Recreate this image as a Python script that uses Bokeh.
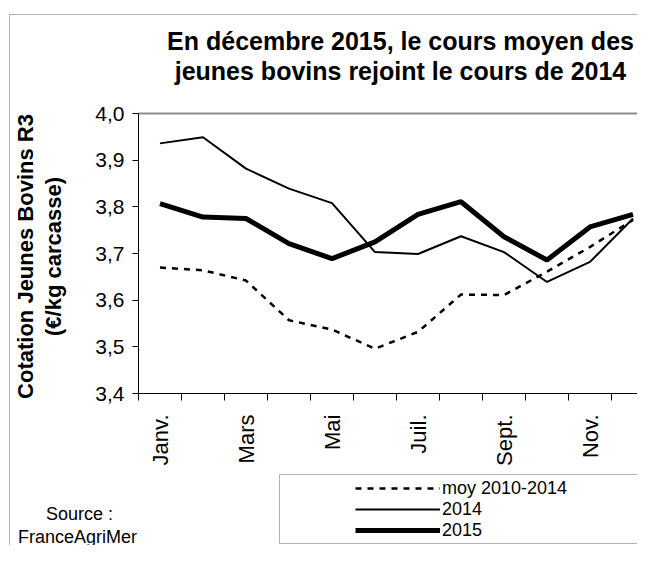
from math import pi
from bokeh.plotting import figure
from bokeh.models import (Range1d, FixedTicker, Label, Legend, LegendItem,
                          PolyAnnotation, CustomJSTickFormatter, LinearAxis)
from bokeh.embed import file_html
from bokeh.resources import INLINE

# ---- data ----
months = ["Janv.", "Févr.", "Mars", "Avr.", "Mai", "Juin",
          "Juil.", "Août", "Sept.", "Oct.", "Nov.", "Déc."]
moy_2010_2014 = [3.670, 3.664, 3.642, 3.557, 3.537, 3.496,
                 3.532, 3.612, 3.611, 3.661, 3.714, 3.772]
cours_2014 = [3.936, 3.949, 3.882, 3.839, 3.808, 3.703,
              3.699, 3.737, 3.703, 3.639, 3.682, 3.775]
cours_2015 = [3.807, 3.778, 3.775, 3.721, 3.689, 3.725,
              3.784, 3.811, 3.736, 3.686, 3.757, 3.784]
y_ticks = [3.4, 3.5, 3.6, 3.7, 3.8, 3.9, 4.0]
series_names = ["moy 2010-2014", "2014", "2015"]
title_lines = ["En décembre 2015, le cours moyen des",
               "jeunes bovins rejoint le cours de 2014"]
y_title_lines = ["Cotation Jeunes Bovins R3", "(€/kg carcasse)"]
source_lines = ["Source :", "FranceAgriMer"]

FONT = "Liberation Sans"

# ---- layout (pixels on the canvas) ----
W, H = 637, 545
PLOT_LEFT, PLOT_TOP, PLOT_BOTTOM = 138, 113, 393
CAT_PX = 43.0
Y_MIN, Y_MAX = 3.4, 4.0
y_per_px = (Y_MAX - Y_MIN) / (PLOT_BOTTOM - PLOT_TOP)

x_range = Range1d(-PLOT_LEFT / CAT_PX, (W - PLOT_LEFT) / CAT_PX)
y_range = Range1d(Y_MIN - (H - PLOT_BOTTOM) * y_per_px, Y_MAX + PLOT_TOP * y_per_px)

x = [i + 0.5 for i in range(len(months))]

p = figure(width=W, height=H, output_backend="svg", toolbar_location=None,
           x_range=x_range, y_range=y_range,
           min_border_left=0, min_border_right=0,
           min_border_top=0, min_border_bottom=0)
p.outline_line_color = None
p.background_fill_color = "white"
p.border_fill_color = "white"
p.xgrid.visible = False
p.ygrid.visible = False

# y axis (value axis)
p.yaxis.fixed_location = 0
p.yaxis.bounds = (Y_MIN, Y_MAX)
p.yaxis.ticker = FixedTicker(ticks=y_ticks)
p.yaxis.formatter = CustomJSTickFormatter(code="return tick.toFixed(1).replace('.', ',');")
p.yaxis.major_tick_out = 6
p.yaxis.major_tick_in = 0
p.yaxis.minor_tick_line_color = None
p.yaxis.axis_line_color = "black"
p.yaxis.major_tick_line_color = "black"
p.yaxis.major_label_text_font = FONT
p.yaxis.major_label_text_font_size = "21px"
p.yaxis.major_label_text_color = "black"
p.yaxis.major_label_standoff = 8

# x axis (category axis)
p.xaxis.fixed_location = Y_MIN
p.xaxis.bounds = (0, len(months))
p.xaxis.ticker = FixedTicker(ticks=[i + 0.5 for i in range(0, 12, 2)],
                             minor_ticks=list(range(0, 13)))
p.xaxis.formatter = CustomJSTickFormatter(args=dict(labels=months),
                                          code="return labels[Math.floor(tick)];")
p.xaxis.major_tick_out = 0
p.xaxis.major_tick_in = 0
p.xaxis.minor_tick_out = 7
p.xaxis.minor_tick_in = 0
p.xaxis.minor_tick_line_color = "black"
p.xaxis.axis_line_color = "black"
p.xaxis.major_label_orientation = pi / 2
p.xaxis.major_label_text_font = FONT
p.xaxis.major_label_text_font_size = "22px"
p.xaxis.major_label_text_color = "black"
p.xaxis.major_label_standoff = 14

# top border of the plot area (gray)
top_axis = LinearAxis(fixed_location=Y_MAX, bounds=(0, len(months)),
                      ticker=FixedTicker(ticks=[]),
                      axis_line_color="#8c8c8c", axis_line_width=2,
                      major_tick_line_color=None, minor_tick_line_color=None,
                      major_label_text_font_size="0px")
p.add_layout(top_axis, "above")

r_moy = p.line(x, moy_2010_2014, line_color="black", line_width=2.5, line_dash="6 6")
r14 = p.line(x, cours_2014, line_color="black", line_width=2)
r15 = p.line(x, cours_2015, line_color="black", line_width=5)

# outer frame and legend box (right side runs off the picture)
p.add_layout(PolyAnnotation(xs=[9, 9, 3000, 3000], ys=[3000, 14, 14, 3000],
                            xs_units="canvas", ys_units="canvas",
                            fill_alpha=0, line_color="black", line_width=1))
p.add_layout(PolyAnnotation(xs=[3000, 279, 279, 3000], ys=[474, 474, 543, 543],
                            xs_units="canvas", ys_units="canvas",
                            fill_alpha=0, line_color="black", line_width=1))

# one legend per row for tight row spacing
row_bottoms = [46.5, 25.5, 4.5]
for name, rend, vy in zip(series_names, [r_moy, r14, r15], row_bottoms):
    lg = Legend(items=[LegendItem(label=name, renderers=[rend])],
                location=(355, vy), border_line_color=None,
                background_fill_alpha=0, padding=0, spacing=0, margin=0,
                label_standoff=2, glyph_width=85, glyph_height=20,
                label_height=20, label_text_font=FONT,
                label_text_font_size="18px", label_text_color="black")
    p.add_layout(lg)

def canvas_label(text, x, y, size, bold=False, angle=0.0):
    p.add_layout(Label(x=x, y=y, x_units="canvas", y_units="canvas", text=text,
                       text_align="center", text_baseline="middle",
                       text_font=FONT, text_font_size=size,
                       text_font_style="bold" if bold else "normal",
                       text_color="black", angle=angle))

canvas_label(title_lines[0], 400, 40, "25px", bold=True)
canvas_label(title_lines[1], 400, 70, "25px", bold=True)
canvas_label(y_title_lines[0], 25, 256, "22px", bold=True, angle=pi / 2)
canvas_label(y_title_lines[1], 53, 256, "22px", bold=True, angle=pi / 2)
canvas_label(source_lines[0], 79, 513, "18px")
canvas_label(source_lines[1], 77, 536, "18px")

open("out.html", "w").write(file_html(p, INLINE))
